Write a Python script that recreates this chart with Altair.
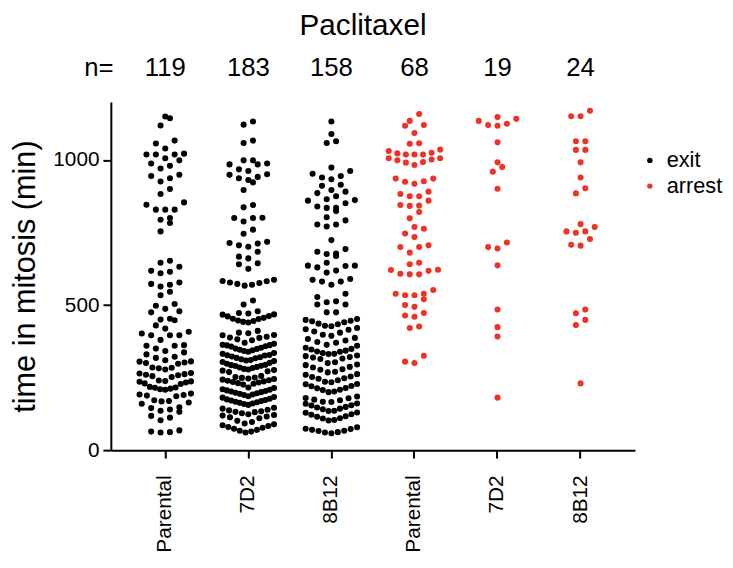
import altair as alt
import pandas as pd

# ---------------- data ----------------
groups = ["exit:Parental", "exit:7D2", "exit:8B12",
          "arrest:Parental", "arrest:7D2", "arrest:8B12"]
status = ["exit", "exit", "exit", "arrest", "arrest", "arrest"]
counts = [119, 183, 158, 68, 19, 24]

exit_parental = [
    1144, 1150, 1119, 1057, 1067, 1022, 999, 1019, 1019, 1019, 1006, 1040, 971, 980, 988,
    945, 926, 937, 949, 900, 883, 854, 829, 829, 846, 829, 783, 794, 800, 754,
    646, 632, 653, 615, 610, 618, 578, 570, 573, 564, 546, 534, 504, 487, 498, 475, 479,
    448, 450, 453, 430, 408, 396, 396, 396, 402, 419, 380, 350, 337, 360, 360, 362, 342,
    330, 322, 318, 310, 305, 300, 298, 302, 306, 285, 282, 278, 284,
    266, 262, 258, 255, 252, 260, 264, 240, 237, 233, 230, 228, 236, 238,
    218, 215, 212, 208, 210, 216, 195, 192, 188, 186, 190, 172, 168, 164, 160, 169,
    148, 140, 136, 145, 132, 118, 112, 103, 64, 61, 62, 68,
]
exit_7d2 = [
    1133, 1122, 1059, 1067, 999, 985, 985, 988, 999, 962, 968, 949, 937, 942, 951, 923, 931,
    897, 837, 845, 801, 800, 788, 800, 760, 746, 718, 712, 701, 706, 714, 684, 661, 667,
    641, 625, 644, 587, 583, 578, 573, 567, 570, 576, 582, 516, 502,
    479, 473, 471, 467, 462, 461, 456, 453, 452, 447, 445, 442, 440, 468,
    411, 405, 403, 397, 396, 391, 388, 387, 382, 379,
    370, 367, 363, 362, 358, 357, 353, 350, 349, 346, 344, 342, 339, 361,
    335, 332, 328, 327, 323, 320, 318, 317, 313, 311, 309, 307, 304, 326,
    301, 298, 294, 293, 291, 287, 285, 283, 280, 278, 276, 274, 272, 269, 290,
    256, 252, 250, 249, 245, 243, 241, 239, 237, 235, 233, 231, 229, 226, 247,
    216, 214, 210, 208, 206, 204, 202, 200, 198, 196, 194, 192, 190,
    186, 183, 181, 177, 175, 173, 171, 169, 167, 165, 163, 161, 159, 156,
    146, 143, 139, 137, 134, 132, 131, 127, 124, 121, 119, 116, 113, 110,
    101, 97, 92, 89, 86, 83, 80, 77, 74, 70, 67, 64, 61,
]
exit_8b12 = [
    1133, 1090, 1065, 1059, 974, 940, 953, 962, 945, 915, 911, 934, 891, 875, 860, 862, 865,
    886, 897, 840, 835, 824, 835, 851, 803, 778, 771, 778, 792, 724, 693, 678, 669, 676,
    684, 636, 635, 619, 612, 630, 636, 646, 587, 590,
    581, 570, 581, 539, 502, 513, 510, 528, 502, 475, 475,
    452, 449, 446, 444, 441, 436, 434, 429, 427, 421, 417, 415, 409, 405, 398, 394, 387, 383,
    378, 373, 370, 363, 360, 353, 349,
    347, 343, 340, 339, 335, 332, 331, 326, 324, 321, 319, 316, 314,
    303, 300, 295, 293, 287, 285, 279, 277, 270, 268, 262, 260, 254, 252, 248, 246,
    241, 236, 234, 228, 227, 221, 220, 214, 213, 208, 207, 202, 200,
    185, 180, 179, 174, 172, 167, 166, 161, 160, 155, 154, 149, 147, 143,
    141, 136, 135, 130, 129, 124, 122, 117, 115, 110, 109, 104, 102,
    79, 74, 73, 70, 67, 66, 62, 61, 58,
]
arrest_parental = [
    1159, 1135, 1121, 1118, 1093, 1058, 1056, 1036, 1019, 1025, 1019, 1023, 1031, 1019,
    1006, 999, 991, 983, 993, 1002, 1006,
    936, 925, 927, 918, 936, 875, 891, 883, 875, 845, 842, 843, 860, 821, 799,
    763, 735, 747, 769, 706, 700, 681, 700,
    622, 618, 641, 646, 606, 606, 608, 621, 552, 534, 520, 539, 539, 534,
    500, 494, 473, 460, 464, 426, 421, 325, 300, 305,
]
arrest_7d2 = [1142, 1125, 1118, 1121, 1135, 1148, 1061, 992, 976, 960, 901,
              716, 695, 700, 637, 485, 424, 392, 181]
arrest_8b12 = [1170, 1151, 1151, 1065, 1065, 1035, 1035, 992, 940, 903, 885,
               779, 769, 754, 754, 749, 728, 708, 705, 485, 472, 449, 431, 230]

series = [exit_parental, exit_7d2, exit_8b12, arrest_parental, arrest_7d2, arrest_8b12]

# ---------------- scatter-dot layout (rows, centre-out) ----------------
ROW = 30.0      # value span of one row
STEP = 9.5      # preferred horizontal spacing, px
MAXW = 52.0     # widest row, px

rows = []
for g, st, vals in zip(groups, status, series):
    vs = sorted(vals)
    clusters, cur = [], [vs[0]]
    for v in vs[1:]:
        if v - cur[0] < ROW:
            cur.append(v)
        else:
            clusters.append(cur)
            cur = [v]
    clusters.append(cur)
    for cl in clusters:
        n = len(cl)
        step = STEP if n < 2 else min(STEP, MAXW / (n - 1))
        slots = [k - (n - 1) / 2 for k in range(n)]
        slots.sort(key=lambda s: (abs(s), s))
        for v, s in zip(cl, slots):
            rows.append({"grp": g, "status": st, "value": v, "off": s * step})

df = pd.DataFrame(rows)
ndf = pd.DataFrame({"grp": groups, "n": [str(c) for c in counts]})

FONT = "Liberation Sans"
x_scale = alt.Scale(domain=groups, paddingInner=0, paddingOuter=0.155)

x_axis = alt.Axis(
    title=None, labelAngle=-90, labelFontSize=21, labelColor="black",
    labelExpr="split(datum.label, ':')[1]", labelPadding=17,
    domainColor="black", domainWidth=2, tickColor="black", tickWidth=2, tickSize=8,
)
y_axis = alt.Axis(
    title="time in mitosis (min)", values=[0, 500, 1000], format="d", grid=False,
    labelFontSize=21, labelColor="black", titleFontSize=31, titleColor="black",
    titleFontWeight="normal", titlePadding=11, labelPadding=4,
    domainColor="black", domainWidth=2, tickColor="black", tickWidth=2, tickSize=8,
)

points = alt.Chart(df).mark_circle(size=38, opacity=1).encode(
    x=alt.X("grp:N", scale=x_scale, sort=groups, axis=x_axis),
    xOffset=alt.XOffset("off:Q", scale=alt.Scale(domain=[-42, 42])),
    y=alt.Y("value:Q", scale=alt.Scale(domain=[0, 1200], nice=False), axis=y_axis),
    color=alt.Color(
        "status:N",
        scale=alt.Scale(domain=["exit", "arrest"], range=["#000000", "#EE3326"]),
        legend=alt.Legend(
            title=None, orient="none", legendX=534, legendY=48,
            labelFontSize=22, labelColor="black", symbolSize=30,
            symbolType="circle", rowPadding=4, labelOffset=6,
        ),
    ),
)

ntext = alt.Chart(ndf).mark_text(fontSize=26, font=FONT, color="black", baseline="middle").encode(
    x=alt.X("grp:N", scale=x_scale, sort=groups),
    y=alt.value(-34),
    text="n:N",
)

nlabel = alt.Chart(pd.DataFrame({"t": ["n="]})).mark_text(
    fontSize=26, font=FONT, color="black", baseline="middle"
).encode(x=alt.value(-12), y=alt.value(-34), text="t:N")

title = alt.Chart(pd.DataFrame({"t": ["Paclitaxel"]})).mark_text(
    fontSize=30, font=FONT, color="black", baseline="middle"
).encode(x=alt.value(255), y=alt.value(-77), text="t:N")

chart = alt.layer(points, ntext, nlabel, title).properties(
    width=530, height=352,
    padding={"left": 104, "top": 92, "right": 91, "bottom": 108},
    autosize=alt.AutoSizeParams(type="none"),
).configure(font=FONT).configure_view(stroke=None)

chart.save("out.html", embed_options={"renderer": "svg", "actions": False})
